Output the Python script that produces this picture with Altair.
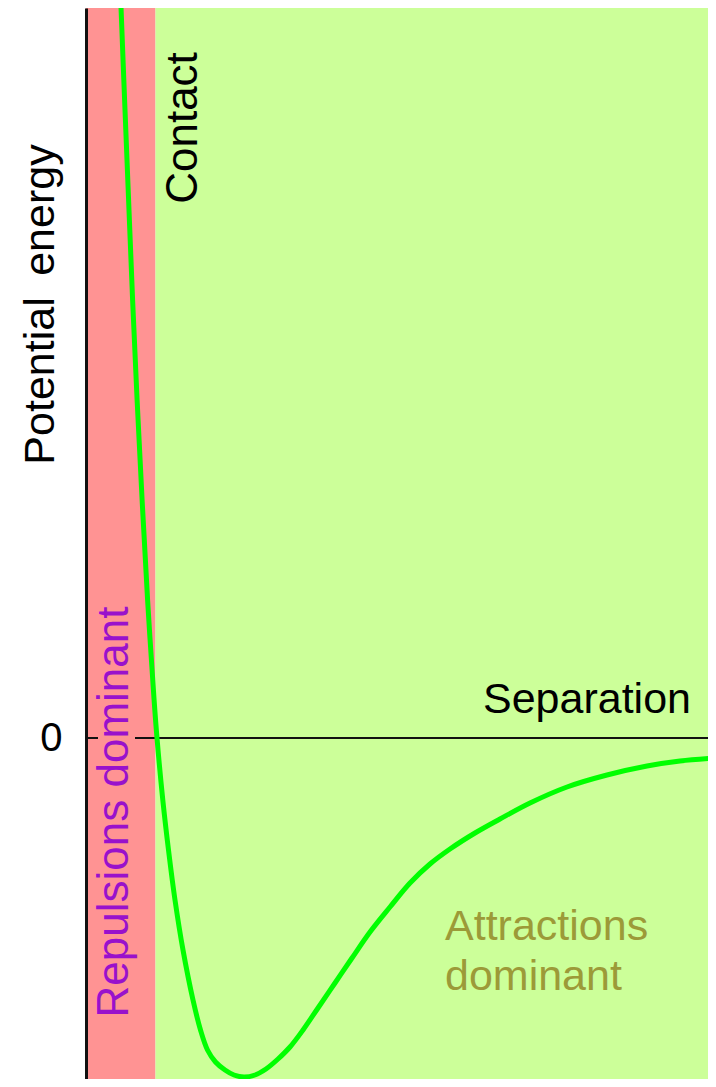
import altair as alt
import pandas as pd

FONT = "Liberation Sans"

# ---- data -------------------------------------------------------------
# Potential energy curve (arbitrary units)
separation = [0.350, 0.386, 0.426, 0.466, 0.511, 0.561, 0.616, 0.681, 0.710, 0.768,
              0.825, 0.890, 0.970, 1.070, 1.145, 1.215, 1.295, 1.390, 1.480, 1.580,
              1.69, 1.80, 1.92, 2.04, 2.17, 2.32, 2.49, 2.66, 2.84, 3.04,
              3.24, 3.44, 3.64, 3.89, 4.14, 4.44, 4.81, 5.21, 5.61, 5.94, 6.30]
energy = [7.31, 6.38, 5.38, 4.38, 3.38, 2.38, 1.38, 0.38, 0.00, -0.62,
          -1.12, -1.62, -2.12, -2.62, -2.92, -3.12, -3.24, -3.32, -3.37, -3.39,
          -3.37, -3.31, -3.21, -3.09, -2.92, -2.70, -2.45, -2.20, -1.94, -1.69,
          -1.45, -1.26, -1.11, -0.95, -0.81, -0.65, -0.49, -0.37, -0.28, -0.23, -0.20]

x_domain = [0.0, 6.22]
y_domain = [-3.41, 7.30]

# Background regions
region_names = ["Repulsions", "Attractions"]
region_start = [0.0, 0.695]
region_end = [0.695, 6.30]
region_colors = ["#FF9393", "#CCFF99"]

# Labels
label_text = ["Contact", "Separation", "Repulsions dominant", "Attractions", "dominant"]
label_x = [1.11, 3.97, 0.42, 3.59, 3.59]
label_y = [6.10, 0.25, -0.74, -2.02, -2.52]
label_kind = ["contact", "separation", "repulsion", "attraction", "attraction"]

# ---- chart ------------------------------------------------------------
xs = alt.Scale(domain=x_domain, nice=False, zero=False)
ys = alt.Scale(domain=y_domain, nice=False, zero=False)

yaxis = alt.Axis(
    values=[0], ticks=False, grid=False, domain=True,
    domainColor="#111111", domainWidth=3,
    labelFontSize=40, labelFont=FONT, labelColor="black", labelPadding=24,
    labelFlush=False, labelOverlap=False,
    title="Potential\u2002energy", titleFont=FONT, titleFontSize=43,
    titleFontWeight="normal", titleColor="black", titleAngle=270,
    titleAlign="center", titleBaseline="alphabetic", titleX=-33, titleY=296,
    zindex=1,
)


def X(field):
    return alt.X(field, type="quantitative", scale=xs, axis=None)


def Y(field):
    return alt.Y(field, type="quantitative", scale=ys, axis=yaxis)


regions_df = pd.DataFrame({
    "region": region_names,
    "x0": region_start,
    "x1": region_end,
    "y0": [y_domain[0]] * len(region_names),
    "y1": [y_domain[1]] * len(region_names),
})
bg = alt.Chart(regions_df).mark_rect(clip=True).encode(
    x=X("x0"), x2="x1", y=Y("y0"), y2="y1",
    color=alt.Color("region:N", scale=alt.Scale(domain=region_names, range=region_colors), legend=None),
)

zero_df = pd.DataFrame({"x0": [x_domain[0]], "x1": [x_domain[1]], "y": [0.0]})
zero_rule = alt.Chart(zero_df).mark_rule(color="#111111", strokeWidth=2).encode(
    x=X("x0"), x2="x1", y=Y("y")
)

# small patch behind the rotated label (the reference hides the zero line there)
patch_df = pd.DataFrame({"x0": [0.12], "x1": [0.49], "y0": [-0.03], "y1": [0.03]})
patch = alt.Chart(patch_df).mark_rect(color=region_colors[0]).encode(
    x=X("x0"), x2="x1", y=Y("y0"), y2="y1"
)

curve_df = pd.DataFrame({"separation": separation, "energy": energy})
curve = alt.Chart(curve_df).mark_line(
    color="#00FF00", strokeWidth=5, interpolate="catmull-rom", clip=True
).encode(x=X("separation"), y=Y("energy"), order=alt.Order("separation:Q"))

labels_df = pd.DataFrame({"text": label_text, "x": label_x, "y": label_y, "kind": label_kind})
base = alt.Chart(labels_df)
contact = base.transform_filter(alt.datum.kind == "contact").mark_text(
    font=FONT, fontSize=44, angle=270, align="center", baseline="alphabetic", color="black"
).encode(x=X("x"), y=Y("y"), text="text:N")
sep = base.transform_filter(alt.datum.kind == "separation").mark_text(
    font=FONT, fontSize=43, align="left", baseline="alphabetic", color="black"
).encode(x=X("x"), y=Y("y"), text="text:N")
rep = base.transform_filter(alt.datum.kind == "repulsion").mark_text(
    font=FONT, fontSize=44, angle=270, align="center", baseline="alphabetic", color="#9911CC"
).encode(x=X("x"), y=Y("y"), text="text:N")
att = base.transform_filter(alt.datum.kind == "attraction").mark_text(
    font=FONT, fontSize=43, align="left", baseline="alphabetic", color="#9C9A38"
).encode(x=X("x"), y=Y("y"), text="text:N")

chart = alt.layer(bg, zero_rule, patch, curve, contact, sep, rep, att).properties(
    width=622, height=1071,
    autosize=alt.AutoSizeParams(type="none"),
    padding={"left": 78, "top": 0, "right": 0, "bottom": 0},
).configure_view(strokeWidth=0)

chart.save("out.html", embed_options={"renderer": "svg", "actions": False})
